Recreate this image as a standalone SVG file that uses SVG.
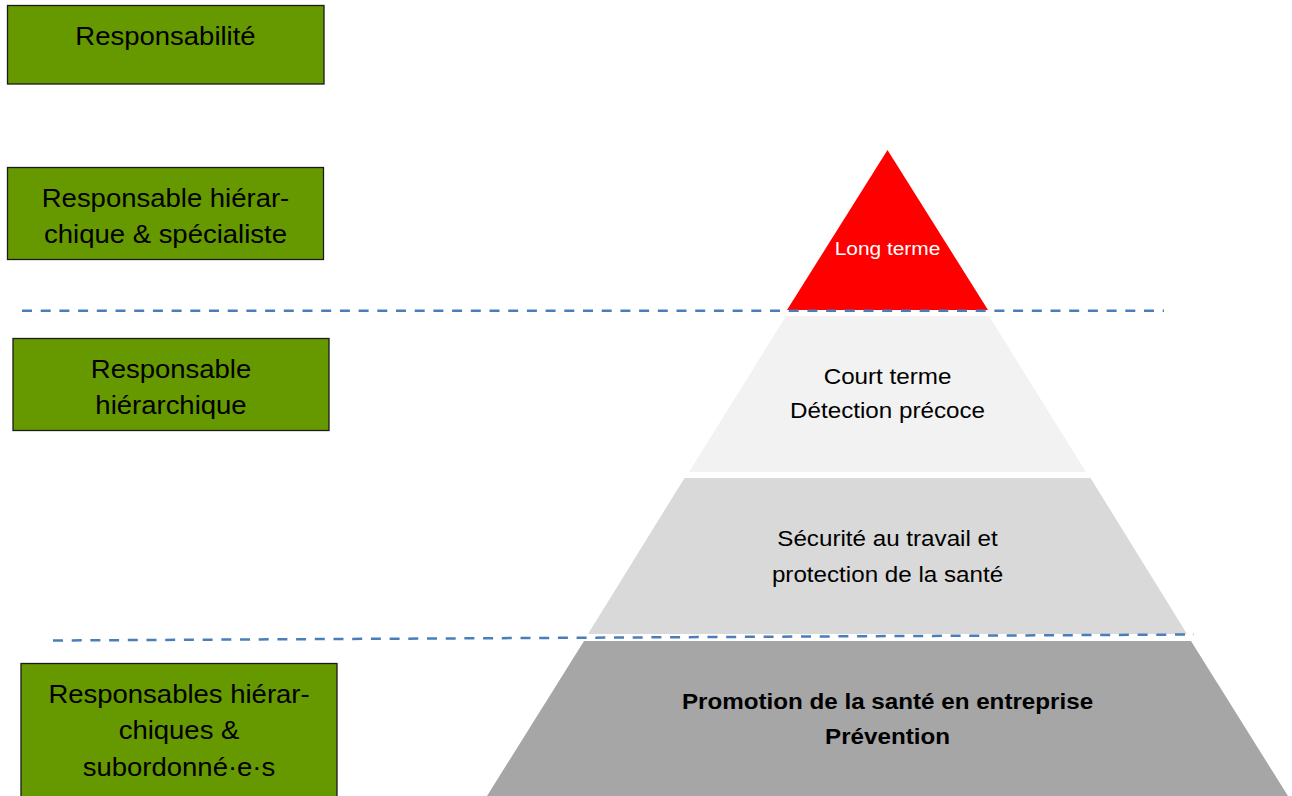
<svg xmlns="http://www.w3.org/2000/svg" width="1292" height="796" viewBox="0 0 1292 796">
<style>
.box{fill:#669900;stroke:#1a1a1a;stroke-width:1.3}
.bt{font-family:"Liberation Sans",Arial,sans-serif;font-size:25px;fill:#000;text-anchor:middle}
.pt{font-family:"Liberation Sans",Arial,sans-serif;font-size:22px;fill:#000;text-anchor:middle}
.pb{font-weight:bold}
.dash{fill:none;stroke:#4a7ebb;stroke-width:2.5;stroke-dasharray:10 8.7}
</style>
<rect width="1292" height="796" fill="#fff"/>
<g id="box-responsabilite">
<rect class="box" x="7.5" y="5.5" width="316.5" height="78.5"/>
<g transform="translate(165.5,0) scale(1.1,1)"><text class="bt" x="0" y="45">Responsabilité</text></g>
</g>
<g id="box-hierarchique-specialiste">
<rect class="box" x="7.5" y="167.5" width="316" height="92"/>
<g transform="translate(165.5,0) scale(1.1,1)"><text class="bt" x="0" y="207">Responsable hiérar-</text><text class="bt" x="0" y="243">chique &amp; spécialiste</text></g>
</g>
<g id="box-hierarchique">
<rect class="box" x="13" y="338.5" width="316" height="92"/>
<g transform="translate(171,0) scale(1.1,1)"><text class="bt" x="0" y="378">Responsable</text><text class="bt" x="0" y="414">hiérarchique</text></g>
</g>
<g id="box-subordonnes">
<rect class="box" x="21" y="663.5" width="316" height="140"/>
<g transform="translate(179,0) scale(1.1,1)"><text class="bt" x="0" y="703">Responsables hiérar-</text><text class="bt" x="0" y="739">chiques &amp;</text><text class="bt" x="0" y="776">subordonné·e·s</text></g>
</g>
<g id="layer-long-terme">
<polygon points="887.5,150 787,310 988,310" fill="#ff0000"/>
<g transform="translate(887.5,0) scale(1.1,1)"><text class="pt" x="0" y="255" style="font-size:19px;fill:#fff">Long terme</text></g>
</g>
<g id="layer-court-terme">
<polygon points="786,316 989,316 1086,472 689,472" fill="#f2f2f2"/>
<g transform="translate(887.5,0) scale(1.1,1)"><text class="pt" x="0" y="384">Court terme</text><text class="pt" x="0" y="418">Détection précoce</text></g>
</g>
<g id="layer-securite">
<polygon points="684.5,478 1090.5,478 1187,634 588,634" fill="#d9d9d9"/>
<g transform="translate(887.5,0) scale(1.1,1)"><text class="pt" x="0" y="546">Sécurité au travail et</text><text class="pt" x="0" y="582">protection de la santé</text></g>
</g>
<g id="layer-promotion">
<polygon points="584,641 1191,641 1288,796 487,796" fill="#a6a6a6"/>
<g transform="translate(887.5,0) scale(1.1,1)"><text class="pt pb" x="0" y="709">Promotion de la santé en entreprise</text><text class="pt pb" x="0" y="744">Prévention</text></g>
</g>
<g id="connectors">
<line class="dash" x1="22" y1="310.7" x2="1164" y2="310.7"/>
<line class="dash" x1="53" y1="640.5" x2="1194" y2="634.5"/>
</g>
</svg>
